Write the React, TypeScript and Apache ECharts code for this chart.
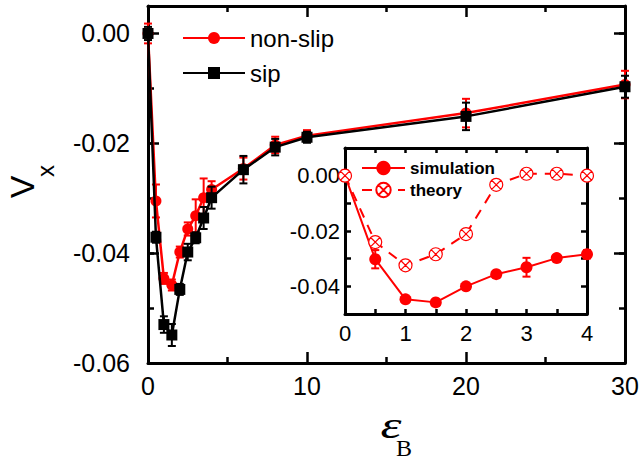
import React, { useEffect, useRef } from "react";
import * as echarts from "echarts";

// ---- main plot data ----
const xMain = [0, 0.5, 1, 1.5, 2, 2.5, 3, 3.5, 4, 6, 8, 10, 20, 30];
const nonSlipV = [0, -0.0305, -0.0446, -0.0458, -0.0398, -0.0356, -0.0332, -0.0299, -0.0284, -0.0246, -0.0203, -0.0186, -0.0145, -0.0093];
const nonSlipErr = [0.0018, 0.003, 0.001, 0.001, 0.001, 0.0012, 0.003, 0.0035, 0.0015, 0.002, 0.0015, 0.001, 0.0026, 0.0025];
const sipV = [0, -0.0371, -0.053, -0.0549, -0.0466, -0.0398, -0.0372, -0.0336, -0.0299, -0.0248, -0.0207, -0.0189, -0.0151, -0.0097];
const sipErr = [0.0012, 0.001, 0.0015, 0.002, 0.001, 0.0015, 0.001, 0.002, 0.002, 0.0025, 0.0015, 0.001, 0.0025, 0.002];

// ---- inset data ----
const xInset = [0, 0.5, 1, 1.5, 2, 2.5, 3, 3.5, 4];
const simulationV = [0, -0.0302, -0.0447, -0.0458, -0.04, -0.0356, -0.0331, -0.0298, -0.0284];
const simulationErr = [0.0018, 0.0033, 0.0008, 0.0008, 0.001, 0.001, 0.0034, 0.0012, 0.0015];
const theoryV = [0, -0.024, -0.0324, -0.0284, -0.0211, -0.0033, 0.0007, 0.0007, 0.0];

const mainXTicks = [0, 10, 20, 30];
const mainYTicks = [-0.06, -0.04, -0.02, 0.0];
const insetXTicks = [0, 1, 2, 3, 4];
const insetYTicks = [-0.04, -0.02, 0.0];

const RED = "#ff0000";
const BLACK = "#000000";
const SANS = "Liberation Sans";
const CROSS_CIRCLE =
  "path://M10,0A10,10,0,1,1,10,20A10,10,0,1,1,10,0Z M2.93,2.93L17.07,17.07 M17.07,2.93L2.93,17.07";

const near = (v: number, list: number[]) => list.some((t) => Math.abs(t - v) < 1e-7);
const fmt2 = (v: number) => (Math.abs(v) < 1e-9 ? "0.00" : v.toFixed(2));

function errorSeries(name: string, xs: number[], ys: number[], es: number[], color: string, xi: number, yi: number, cap: number, z: number) {
  return {
    type: "custom",
    name,
    xAxisIndex: xi,
    yAxisIndex: yi,
    z,
    silent: true,
    data: xs.map((x, i) => [x, ys[i], es[i]]),
    renderItem: (params: any, api: any) => {
      const x = api.value(0);
      const y = api.value(1);
      const e = api.value(2);
      const top = api.coord([x, y + e]);
      const bot = api.coord([x, y - e]);
      const st = { stroke: color, lineWidth: 2 };
      return {
        type: "group",
        children: [
          { type: "line", shape: { x1: top[0], y1: top[1], x2: bot[0], y2: bot[1] }, style: st },
          { type: "line", shape: { x1: top[0] - cap, y1: top[1], x2: top[0] + cap, y2: top[1] }, style: st },
          { type: "line", shape: { x1: bot[0] - cap, y1: bot[1], x2: bot[0] + cap, y2: bot[1] }, style: st },
        ],
      };
    },
  };
}

export default function App() {
  const ref = useRef<HTMLDivElement>(null);
  useEffect(() => {
    document.body.style.margin = "0";
    const chart = echarts.init(ref.current!, null, { renderer: "svg" });
    const axisLine = { show: true, onZero: false, lineStyle: { color: BLACK, width: 3 } };
    const noLabel = { show: false };
    const mainX = (pos: string, labels: boolean) => ({
      type: "value",
      gridIndex: 0,
      position: pos,
      min: 0,
      max: 30,
      interval: 10,
      axisLine,
      splitLine: { show: false },
      axisTick: { show: true, inside: true, length: 11, lineStyle: { color: BLACK, width: 2.5 } },
      minorTick: { show: true, splitNumber: 2, length: 6, lineStyle: { color: BLACK, width: 2.5 } },
      minorSplitLine: { show: false },
      axisLabel: labels
        ? { show: true, margin: 10, fontSize: 25, fontFamily: SANS, color: BLACK, formatter: (v: number) => (near(v, mainXTicks) ? String(v) : "") }
        : noLabel,
    });
    const mainY = (pos: string, labels: boolean, minor: boolean) => ({
      type: "value",
      gridIndex: 0,
      position: pos,
      min: -0.06,
      max: 0.005,
      interval: minor ? 0.01 : 0.02,
      axisLine: minor ? { show: false, onZero: false } : axisLine,
      splitLine: { show: false },
      axisTick: { show: true, inside: true, length: minor ? 6 : 11, lineStyle: { color: BLACK, width: 2.5 } },
      axisLabel: labels
        ? { show: true, margin: 18, fontSize: 25, fontFamily: SANS, color: BLACK, formatter: (v: number) => (near(v, mainYTicks) ? fmt2(v) : "") }
        : noLabel,
    });
    const insetX = (pos: string, labels: boolean) => ({
      type: "value",
      gridIndex: 1,
      position: pos,
      min: 0,
      max: 4,
      interval: 0.5,
      axisLine,
      splitLine: { show: false },
      axisTick: { show: true, inside: true, length: 5, lineStyle: { color: BLACK, width: 2.5 } },
      axisLabel: labels
        ? { show: true, margin: 8, fontSize: 22, fontFamily: SANS, color: BLACK, formatter: (v: number) => (near(v, insetXTicks) ? String(Math.round(v)) : "") }
        : noLabel,
    });
    const insetY = (pos: string, labels: boolean) => ({
      type: "value",
      gridIndex: 1,
      position: pos,
      min: -0.05,
      max: 0.01,
      interval: 0.01,
      axisLine,
      splitLine: { show: false },
      axisTick: { show: true, inside: true, length: 6, lineStyle: { color: BLACK, width: 2.5 } },
      axisLabel: labels
        ? { show: true, margin: 5, fontSize: 22, fontFamily: SANS, color: BLACK, formatter: (v: number) => (near(v, insetYTicks) ? fmt2(v) : "") }
        : noLabel,
    });

    const option: any = {
      animation: false,
      backgroundColor: "#ffffff",
      grid: [
        { left: 148, top: 6, width: 477, height: 357, containLabel: false },
        { left: 345, top: 148, width: 242, height: 166, containLabel: false },
      ],
      xAxis: [mainX("bottom", true), mainX("top", false), insetX("bottom", true), insetX("top", false)],
      yAxis: [
        mainY("left", true, false),
        mainY("left", false, true),
        mainY("right", false, false),
        mainY("right", false, true),
        insetY("left", true),
        insetY("right", false),
      ],
      legend: [
        {
          data: ["non-slip", "sip"],
          orient: "vertical",
          left: 177,
          top: 21,
          itemWidth: 62,
          itemHeight: 15,
          itemGap: 11,
          textStyle: { fontSize: 24, lineHeight: 24, fontFamily: SANS, color: BLACK },
        },
        {
          data: ["simulation", "theory"],
          orient: "vertical",
          left: 356,
          top: 154,
          itemWidth: 43,
          itemHeight: 18,
          itemGap: 4,
          textStyle: { fontSize: 17, lineHeight: 18, fontWeight: "bold", fontFamily: SANS, color: BLACK },
        },
      ],
      series: [
        errorSeries("non-slip-err", xMain, nonSlipV, nonSlipErr, RED, 0, 0, 4, 3),
        {
          type: "line",
          name: "non-slip",
          xAxisIndex: 0,
          yAxisIndex: 0,
          data: xMain.map((x, i) => [x, nonSlipV[i]]),
          symbol: "circle",
          symbolSize: 11,
          itemStyle: { color: RED },
          lineStyle: { color: RED, width: 2.5 },
          z: 4,
        },
        errorSeries("sip-err", xMain, sipV, sipErr, BLACK, 0, 0, 4, 5),
        {
          type: "line",
          name: "sip",
          xAxisIndex: 0,
          yAxisIndex: 0,
          data: xMain.map((x, i) => [x, sipV[i]]),
          symbol: "rect",
          symbolSize: 11,
          itemStyle: { color: BLACK },
          lineStyle: { color: BLACK, width: 2.5 },
          z: 6,
        },
        errorSeries("simulation-err", xInset, simulationV, simulationErr, RED, 2, 4, 4, 7),
        {
          type: "line",
          name: "simulation",
          xAxisIndex: 2,
          yAxisIndex: 4,
          data: xInset.map((x, i) => [x, simulationV[i]]),
          symbol: "circle",
          symbolSize: 12,
          itemStyle: { color: RED },
          lineStyle: { color: RED, width: 2 },
          z: 8,
        },
        {
          type: "line",
          name: "theory",
          xAxisIndex: 2,
          yAxisIndex: 4,
          data: xInset.map((x, i) => [x, theoryV[i]]),
          symbol: CROSS_CIRCLE,
          symbolSize: 13,
          itemStyle: { color: "#ffffff", borderColor: RED, borderWidth: 1.2 },
          lineStyle: { color: RED, width: 2, type: [10, 8] },
          z: 8,
        },
      ],
      graphic: [
        {
          type: "group",
          x: 22,
          y: 187,
          rotation: Math.PI / 2,
          children: [
            { type: "text", x: 0, y: 0, style: { text: "V", fontSize: 34, fontFamily: SANS, fill: BLACK, align: "center", verticalAlign: "middle" } },
            { type: "text", x: 16, y: 23, style: { text: "x", fontSize: 24, fontFamily: SANS, fill: BLACK, align: "center", verticalAlign: "middle" } },
          ],
        },
        {
          type: "text",
          x: 391,
          y: 425,
          scaleX: 1.4,
          style: { text: "ε", fontSize: 38, fontStyle: "italic", fontFamily: "Liberation Serif", fill: BLACK, align: "center", verticalAlign: "middle" },
        },
        {
          type: "text",
          x: 404,
          y: 448,
          style: { text: "B", fontSize: 24, fontFamily: "Liberation Serif", fill: BLACK, align: "center", verticalAlign: "middle" },
        },
      ],
    };
    chart.setOption(option);
    return () => chart.dispose();
  }, []);
  return <div ref={ref} style={{ width: 642, height: 463 }} />;
}
